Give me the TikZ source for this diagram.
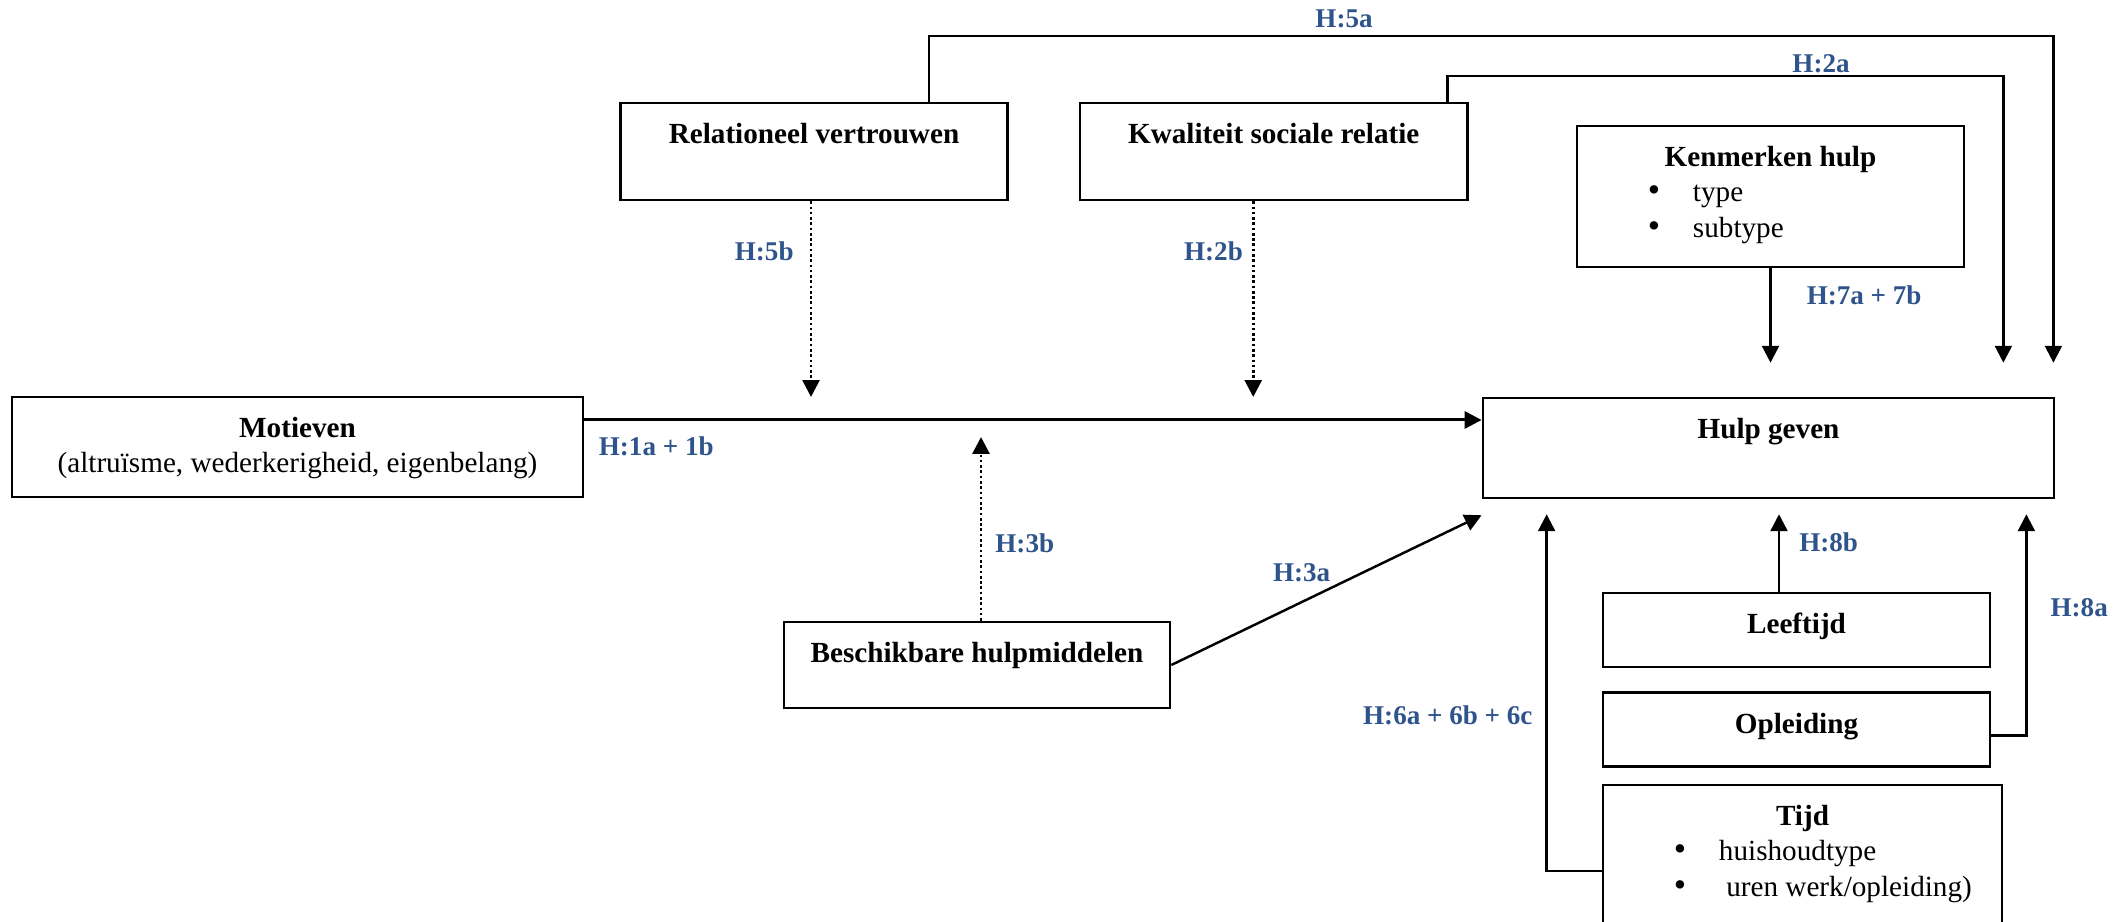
\documentclass[tikz,border=0pt]{standalone}
\usepackage{fontspec}
\setmainfont{Liberation Serif}
\usepackage{xcolor}
\usepackage{tikz}
\usetikzlibrary{arrows.meta,positioning}
\definecolor{hblue}{RGB}{47,84,140}
\newcommand{\blocktext}[3]{\begin{minipage}[c][#2][t]{#1}\centering\rule{0pt}{11.6pt}#3\end{minipage}}
\newcommand{\bulletitem}[1]{\makebox[\linewidth][l]{\hspace*{0.71cm}\makebox[0.45cm][l]{{\fontsize{10}{10}\selectfont\textbullet}}#1}}
\tikzset{%
	block/.style    = {draw, rectangle, inner sep=0pt, line width=0.7pt, font=\fontsize{8.3}{10}\selectfont},
	hyp/.style      = {inner sep=0pt, text=hblue, font=\fontsize{7.7}{9}\selectfont\bfseries}, % hypothesis label
	waypoint/.style = {coordinate},
	arrow/.style    = {line width=0.7pt, -{Triangle[length=4.8pt,width=4.8pt]}},
	modarrow/.style = {arrow, line width=0.8pt, dash pattern=on 0.75pt off 0.75pt}, % moderation
}

\begin{document}
\begin{tikzpicture}[x=0.01cm, y=-0.01cm]
	\useasboundingbox (0,0) rectangle (2127,922);
	\node[block] (motief) at (297.5,447) {\blocktext{5.71cm}{1cm}{\textbf{Motieven}\\(altruïsme, wederkerigheid, eigenbelang)}};
	\node[block] (hulp) at (1768.5,448) {\blocktext{5.71cm}{1cm}{\textbf{Hulp geven}}};
	\node[block] (vertrouw) at (814,151.5) {\blocktext{3.87cm}{0.97cm}{\textbf{Relationeel vertrouwen}}};
	\node[block,right=0.7cm of vertrouw] (kwaliteit) {\blocktext{3.87cm}{0.97cm}{\textbf{Kwaliteit sociale relatie}}};
	\node[block] (kenmerk) at (1770.5,196.5) {\blocktext{3.87cm}{1.41cm}{\textbf{Kenmerken hulp}\\\bulletitem{type}\\\bulletitem{subtype}}};
	\node[block] (middel) at (977,665) {\blocktext{3.86cm}{0.86cm}{\textbf{Beschikbare hulpmiddelen}}};
	\node[block] (leeftijd) at (1796.5,630) {\blocktext{3.87cm}{0.74cm}{\textbf{Leeftijd}}};
	\node[block,below=0.23cm of leeftijd] (opleiding) {\blocktext{3.87cm}{0.74cm}{\textbf{Opleiding}}};
	\node[block,below=0.16cm of opleiding.south west,anchor=north west] (tijd) {\blocktext{3.99cm}{1.72cm}{\textbf{Tijd}\\\bulletitem{huishoudtype}\\\bulletitem{\ uren werk/opleiding)}}};

	\node[waypoint] (wp5a) at (1344,36) {};
	\node[waypoint] (wp2a) at (1821,76) {};
	\node[waypoint] (mainL) at ([yshift=0.27cm]motief.east) {};
	\node[waypoint] (s5b) at ([xshift=-0.03cm]vertrouw.south) {};
	\node[waypoint] (s2b) at ([xshift=-0.205cm]kwaliteit.south) {};
	\node[waypoint] (s3b) at ([xshift=0.04cm]middel.north) {};
	\node[waypoint] (s8b) at ([xshift=-0.175cm]leeftijd.north) {};

	% direct effects
	\draw[arrow,line width=0.85pt] (mainL) -- node[hyp,pos=0,below right=0.15cm and 0.13cm] {H:1a + 1b} (mainL -| hulp.west);
	\draw[arrow,shorten >=0.34cm] ([xshift=1.15cm]vertrouw.north) |- (wp5a) node[hyp,above=0.07cm] {H:5a} -| ([xshift=-0.02cm]hulp.north east);
	\draw[arrow,shorten >=0.34cm] ([xshift=1.735cm]kwaliteit.north) |- (wp2a) node[hyp,above=0.02cm] {H:2a} -| ([xshift=-0.52cm]hulp.north east);
	\draw[arrow,shorten >=0.34cm] (kenmerk.south) -- node[hyp,pos=0.21,right=0.35cm] {H:7a + 7b} (kenmerk.south |- hulp.north);
	\draw[arrow] (middel.east) -- node[hyp,pos=0.42,above=0.19cm] {H:3a} ([yshift=-0.16cm]hulp.south west);
	\draw[arrow,shorten >=0.15cm] (tijd.west) -| node[hyp,pos=0.71,left=0.13cm] {H:6a + 6b + 6c} ([xshift=0.65cm]hulp.south west);
	\draw[arrow,shorten >=0.15cm] (s8b) -- node[hyp,pos=0.53,right=0.19cm] {H:8b} (s8b |- hulp.south);
	\draw[arrow,shorten >=0.15cm] ([yshift=-0.06cm]opleiding.east) -| node[hyp,pos=0.77,right=0.23cm] {H:8a} ([xshift=-0.29cm]hulp.south east);

	% moderation
	\draw[modarrow,shorten >=0.23cm] (s5b) -- node[hyp,pos=0.23,left=0.16cm] {H:5b} (s5b |- mainL);
	\draw[modarrow,shorten >=0.23cm] (s2b) -- node[hyp,pos=0.23,left=0.09cm] {H:2b} (s2b |- mainL);
	\draw[modarrow,shorten >=0.17cm] (s3b) -- node[hyp,pos=0.386,right=0.13cm] {H:3b} (s3b |- mainL);
\end{tikzpicture}
\end{document}
